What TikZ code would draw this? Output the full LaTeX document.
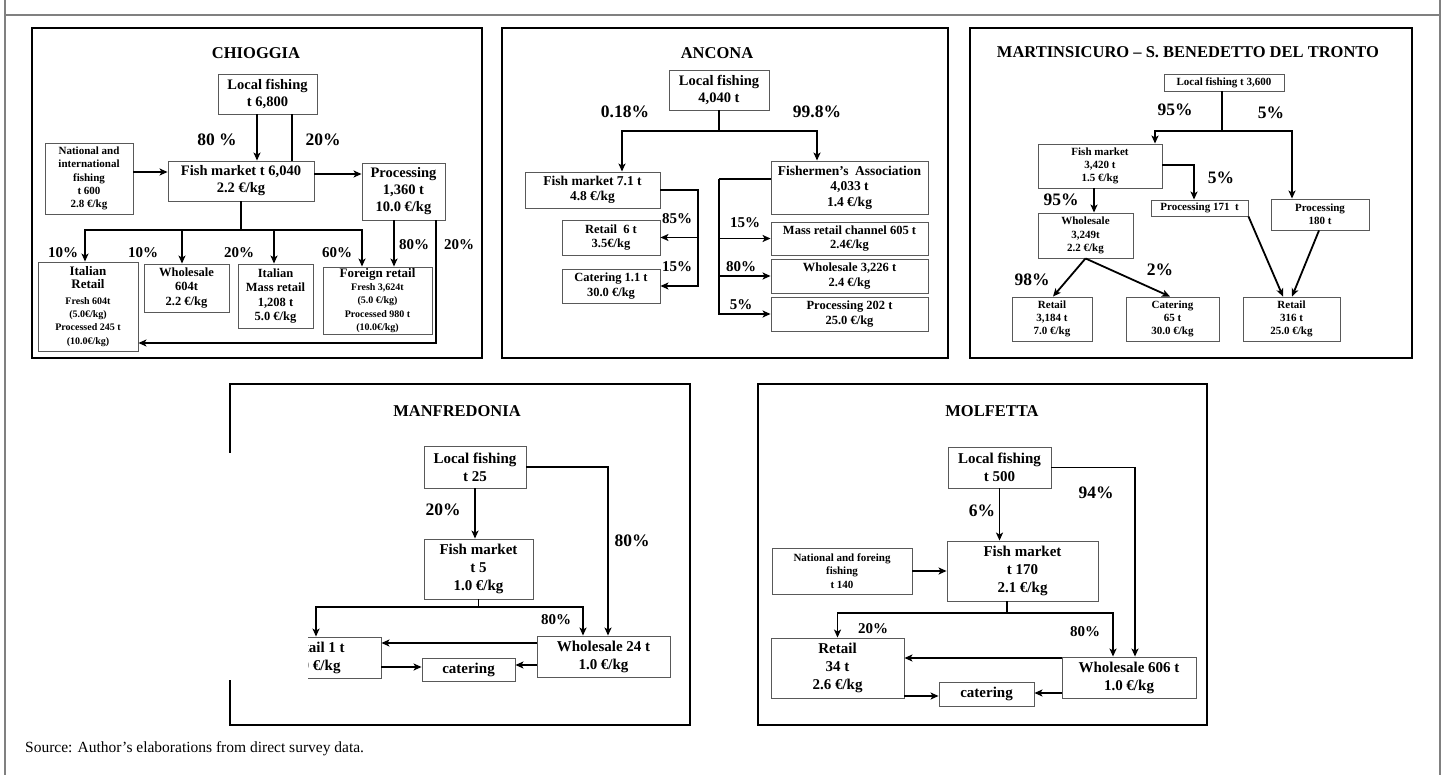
\documentclass[tikz,border=0pt]{standalone}
\usepackage{fontspec}
\setmainfont{Liberation Serif}
\usetikzlibrary{arrows.meta}
\tikzset{
  line/.style={-{Stealth[length=8pt,width=7pt,inset=2pt]}, line width=1.8pt},
  link/.style={line width=1.8pt},
  box/.style={draw=black!65, line width=0.9pt, align=center, inner sep=0pt, font=\bfseries\fontsize{14.5}{17}\selectfont},
  largebox/.style={box, font=\bfseries\fontsize{15}{18}\selectfont},
  medbox/.style={box, font=\bfseries\fontsize{13.5}{15.5}\selectfont},
  midbox/.style={box, font=\bfseries\fontsize{12.5}{14.3}\selectfont},
  smallbox/.style={box, font=\bfseries\fontsize{11}{13.3}\selectfont},
  pct/.style={font=\bfseries\fontsize{15}{16}\selectfont},
  bigpct/.style={font=\bfseries\fontsize{17.5}{18}\selectfont},
  paneltitle/.style={font=\bfseries\fontsize{16.5}{18}\selectfont},
  panel/.style={draw, line width=2.4pt},
  frame/.style={draw=black!50, line width=1.1pt}
}
\newcommand{\headfont}{\fontsize{13}{14.5}\selectfont}
\newcommand{\tinyfont}{\fontsize{10}{12}\selectfont}

\begin{document}
\begin{tikzpicture}[x=1pt, y=-1pt]
  \useasboundingbox (0,0) rectangle (1442,775);
  % page frame
  \draw[frame] (5,0) -- (5,775);
  \draw[frame] (1440,0) -- (1440,775);
  \draw[frame] (5,15) -- (1440,15);

  % panels
  \draw[panel] (32,28) rectangle (482,358);
  \draw[panel] (502,28) rectangle (948,358);
  \draw[panel] (970,28) rectangle (1412,358);
  \draw[panel] (230,384) rectangle (690,725);
  \draw[panel] (758,384) rectangle (1207,725);

  % CHIOGGIA
  \node[paneltitle] (chTitle) at (256,53) {CHIOGGIA};
  \node[box, minimum width=99pt, minimum height=40pt] (chLocal) at (267.5,94) {Local fishing\\t 6,800};
  \node[smallbox, minimum width=88pt, minimum height=71pt] (chNat) at (89,178.5) {National and\\international\\fishing\\t 600\\2.8 €/kg};
  \node[box, minimum width=146pt, minimum height=40pt] (chFish) at (241,181) {Fish market t 6,040\\2.2 €/kg};
  \node[box, minimum width=83pt, minimum height=57pt] (chProc) at (403.5,191.5) {Processing\\1,360 t\\10.0 €/kg};
  \node[smallbox, minimum width=100pt, minimum height=89pt] (chItRet) at (88,306.5)
    {{\headfont Italian}\\{\headfont Retail}\\[2pt]{\tinyfont Fresh 604t}\\{\tinyfont (5.0€/kg)}\\{\tinyfont Processed 245 t}\\{\tinyfont (10.0€/kg)}};
  \node[midbox, minimum width=85pt, minimum height=48pt] (chWhole) at (186.5,288) {Wholesale\\604t\\2.2 €/kg};
  \node[midbox, minimum width=75pt, minimum height=64pt] (chMass) at (275.5,296) {Italian\\Mass retail\\1,208 t\\5.0 €/kg};
  \node[smallbox, minimum width=109pt, minimum height=67pt] (chForeign) at (377.5,300.5)
    {{\headfont Foreign retail}\\{\tinyfont Fresh 3,624t}\\{\tinyfont (5.0 €/kg)}\\{\tinyfont Processed 980 t}\\{\tinyfont (10.0€/kg)}};
  \draw[line] ([xshift=16pt]chFish.north |- chLocal.south) -- ([xshift=16pt]chFish.north);
  \draw[link] ([xshift=24.5pt]chLocal.south) -- ([xshift=24.5pt]chLocal.south |- chFish.north);
  \draw[line] (chNat.east |- 0,172) -- (chFish.west |- 0,172);
  \draw[line] (chFish.east |- 0,174) -- (chProc.west |- 0,174);
  \draw[line] (chFish.south) -- (chFish.south |- 0,230) -| ([xshift=-3pt]chItRet.north);
  \draw[line] (chFish.south) -- (chFish.south |- 0,230) -| ([xshift=-4.5pt]chWhole.north);
  \draw[line] (chFish.south) -- (chFish.south |- 0,230) -| ([xshift=-1.5pt]chMass.north);
  \draw[line] (chFish.south) -- (chFish.south |- 0,230) -| ([xshift=-15.5pt]chForeign.north);
  \draw[line] ([xshift=-9.5pt]chProc.south) -- ([xshift=-9.5pt]chProc.south |- chForeign.north);
  \draw[line] ([xshift=32.5pt]chProc.south) |- (chItRet.east |- 0,343);
  \node[bigpct] (chP80) at (217,140) {80 \%};
  \node[bigpct] (chP20) at (323,140) {20\%};
  \node[pct] (chPa) at (63,253) {10\%};
  \node[pct] (chPb) at (143,253) {10\%};
  \node[pct] (chPc) at (239,253) {20\%};
  \node[pct] (chPd) at (337,253) {60\%};
  \node[pct] (chPe) at (414,245) {80\%};
  \node[pct] (chPf) at (459,245) {20\%};

  % ANCONA
  \node[paneltitle] (anTitle) at (717,53) {ANCONA};
  \node[box, minimum width=100pt, minimum height=40pt] (anLocal) at (719,90) {Local fishing\\4,040 t};
  \node[medbox, minimum width=135pt, minimum height=36pt] (anFish) at (592.5,190) {Fish market 7.1 t\\4.8 €/kg};
  \node[medbox, minimum width=157pt, minimum height=53pt] (anAssoc) at (849.5,187.5) {Fishermen's\ \ Association\\4,033 t\\1.4 €/kg};
  \node[midbox, minimum width=98pt, minimum height=35pt] (anRetail) at (611,237.5) {Retail\ \ 6 t\\3.5€/kg};
  \node[midbox, minimum width=98pt, minimum height=34pt] (anCater) at (611,286) {Catering 1.1 t\\30.0 €/kg};
  \node[midbox, minimum width=157pt, minimum height=33pt] (anMass) at (849.5,238.5) {Mass retail channel 605 t\\2.4€/kg};
  \node[midbox, minimum width=157pt, minimum height=34pt] (anWhole) at (849.5,276) {Wholesale 3,226 t\\2.4 €/kg};
  \node[midbox, minimum width=157pt, minimum height=34pt] (anProc) at (849.5,314) {Processing 202 t\\25.0 €/kg};
  \coordinate (anFishBus) at (698,190);
  \coordinate (anAssocBus) at (719,179);
  \draw[line] (anLocal.south) -- (anLocal.south |- 0,131) -| ([xshift=29.5pt]anFish.north);
  \draw[line] (anLocal.south) -- (anLocal.south |- 0,131) -| ([xshift=-32.5pt]anAssoc.north);
  \draw[line] (anFish.east) -- (anFishBus) |- (anRetail.east);
  \draw[line] (anFishBus) |- (anCater.east);
  \draw[link] (anAssoc.west |- anAssocBus) -- (anAssocBus);
  \draw[line] (anAssocBus) |- (anMass.west);
  \draw[line] (anAssocBus) |- (anWhole.west);
  \draw[line] (anAssocBus) |- (anProc.west);
  \node[bigpct] (anPa) at (625,112) {0.18\%};
  \node[bigpct] (anPb) at (817,112) {99.8\%};
  \node[pct] (anPc) at (677,219) {85\%};
  \node[pct] (anPd) at (677,267) {15\%};
  \node[pct] (anPe) at (745,223) {15\%};
  \node[pct] (anPf) at (741,267) {80\%};
  \node[pct] (anPg) at (741,305) {5\%};

  % MARTINSICURO - S. BENEDETTO DEL TRONTO
  \node[paneltitle] (maTitle) at (1188,52) {MARTINSICURO -- S. BENEDETTO DEL TRONTO};
  \node[smallbox, minimum width=120pt, minimum height=17pt] (maLocal) at (1224,82.5) {Local fishing t 3,600};
  \node[smallbox, minimum width=124pt, minimum height=44pt] (maFish) at (1100,166) {Fish market\\3,420 t\\1.5 €/kg};
  \node[smallbox, minimum width=97pt, minimum height=16pt] (maProcA) at (1199.5,208) {Processing 171\ \ t};
  \node[smallbox, minimum width=98pt, minimum height=31pt] (maProcB) at (1320,214.5) {Processing\\180 t};
  \node[smallbox, minimum width=95pt, minimum height=45pt] (maWhole) at (1085.5,235.5) {Wholesale\\3,249t\\2.2 €/kg};
  \node[smallbox, minimum width=80pt, minimum height=44pt] (maRetA) at (1052,319) {Retail\\3,184 t\\7.0 €/kg};
  \node[smallbox, minimum width=93pt, minimum height=44pt] (maCater) at (1172.5,319) {Catering\\65 t\\30.0 €/kg};
  \node[smallbox, minimum width=97pt, minimum height=44pt] (maRetB) at (1291.5,319) {Retail\\316 t\\25.0 €/kg};
  \draw[line] ([xshift=-2pt]maLocal.south) -- ([xshift=-2pt]maLocal.south |- 0,131) -| ([xshift=55pt]maFish.north);
  \draw[line] ([xshift=-2pt]maLocal.south) -- ([xshift=-2pt]maLocal.south |- 0,131) -| ([xshift=-28pt]maProcB.north);
  \draw[line] (maFish.east |- 0,165) -| ([xshift=-5.5pt]maProcA.north);
  \draw[line] ([xshift=-6pt]maFish.south) -- ([xshift=-6pt]maFish.south |- maWhole.north);
  \draw[line] (maWhole.south) -- ([xshift=1pt]maRetA.north);
  \draw[line] (maWhole.south) -- ([xshift=-2.5pt]maCater.north);
  \draw[line] (maProcA.south east) -- ([xshift=-8.5pt]maRetB.north);
  \draw[line] ([xshift=-1pt]maProcB.south) -- ([xshift=0.5pt]maRetB.north);
  \node[bigpct] (maPa) at (1175,110) {95\%};
  \node[bigpct] (maPb) at (1271,113) {5\%};
  \node[bigpct] (maPc) at (1221,178) {5\%};
  \node[bigpct] (maPd) at (1061,200) {95\%};
  \node[bigpct] (maPe) at (1032,280) {98\%};
  \node[bigpct] (maPf) at (1160,270) {2\%};

  % MANFREDONIA
  \node[paneltitle] (mfTitle) at (457,411) {MANFREDONIA};
  \node[largebox, minimum width=102pt, minimum height=42pt] (mfLocal) at (475,467) {Local fishing\\t 25};
  \node[largebox, minimum width=109pt, minimum height=60pt] (mfFish) at (478.5,569) {Fish market\\t 5\\1.0 €/kg};
  \node[largebox, minimum width=131pt, minimum height=41pt] (mfRetail) at (315.5,657.5) {Retail 1 t\\1.0 €/kg};
  \node[largebox, minimum width=93pt, minimum height=23pt] (mfCater) at (468.5,669.5) {catering};
  \node[largebox, minimum width=133pt, minimum height=41pt] (mfWhole) at (603.5,656.5) {Wholesale 24 t\\1.0 €/kg};
  \draw[line] (mfLocal.south) -- (mfLocal.south |- mfFish.north);
  \draw[line] (mfLocal.east) -| ([xshift=4.5pt]mfWhole.north);
  \draw[line] (mfFish.south) -- (mfFish.south |- 0,607) -| ([xshift=0.5pt]mfRetail.north);
  \draw[line] (mfFish.south) -- (mfFish.south |- 0,607) -| ([xshift=-20.5pt]mfWhole.north);
  \draw[line] (mfWhole.west |- 0,643) -- (mfRetail.east |- 0,643);
  \draw[line] (mfRetail.east |- 0,667) -- (mfCater.west |- 0,667);
  \draw[line] (mfWhole.west |- 0,665) -- (mfCater.east |- 0,665);
  \node[bigpct] (mfPa) at (443,510) {20\%};
  \node[bigpct] (mfPb) at (632,541) {80\%};
  \node[pct] (mfPc) at (556,620) {80\%};
  % cut-off edge of the scan
  \fill[white] (226,453) rectangle (308,680);

  % MOLFETTA
  \node[paneltitle] (moTitle) at (992,411) {MOLFETTA};
  \node[largebox, minimum width=103pt, minimum height=41pt] (moLocal) at (999.5,467.5) {Local fishing\\t 500};
  \node[largebox, minimum width=151pt, minimum height=60pt] (moFish) at (1022.5,571) {Fish market\\t 170\\2.1 €/kg};
  \node[smallbox, minimum width=140pt, minimum height=46pt] (moNat) at (842,571) {National and foreing\\fishing\\t 140};
  \node[largebox, minimum width=133pt, minimum height=60pt] (moRetail) at (837.5,668) {Retail\\34 t\\2.6 €/kg};
  \node[largebox, minimum width=95pt, minimum height=24pt] (moCater) at (986.5,694) {catering};
  \node[largebox, minimum width=134pt, minimum height=41pt] (moWhole) at (1129,677.5) {Wholesale 606 t\\1.0 €/kg};
  \draw[line] (moLocal.south) -- (moLocal.south |- moFish.north);
  \draw[line] (moLocal.east) -| ([xshift=6pt]moWhole.north);
  \draw[line] (moNat.east) -- (moFish.west);
  \draw[line] ([xshift=-15.5pt]moFish.south) -- ([xshift=-15.5pt]moFish.south |- 0,613) -| (moRetail.north);
  \draw[line] ([xshift=-15.5pt]moFish.south) -- ([xshift=-15.5pt]moFish.south |- 0,613) -| ([xshift=-16pt]moWhole.north);
  \draw[line] (moWhole.west |- 0,658) -- (moRetail.east |- 0,658);
  \draw[line] (moRetail.east |- 0,696) -- (moCater.west |- 0,696);
  \draw[line] (moWhole.west |- 0,693) -- (moCater.east |- 0,693);
  \node[bigpct] (moPa) at (982,511) {6\%};
  \node[bigpct] (moPb) at (1096,493) {94\%};
  \node[pct] (moPc) at (873,629) {20\%};
  \node[pct] (moPd) at (1085,632) {80\%};

  % source line
  \node[anchor=base west, font=\fontsize{15.5}{17}\selectfont, inner sep=0pt] (source) at (25,752) {Source: Author's elaborations from direct survey data.};
\end{tikzpicture}
\end{document}
